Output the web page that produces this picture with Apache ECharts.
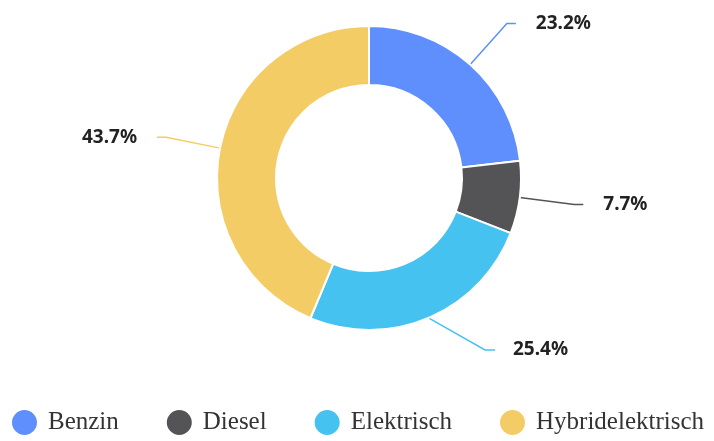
<!DOCTYPE html>
<html>
<head>
<meta charset="utf-8">
<script src="https://cdn.jsdelivr.net/npm/echarts@6/dist/echarts.min.js"></script>
<style>
  html, body { margin: 0; padding: 0; background: #fff; }
  #chart { width: 714px; height: 441px; }
</style>
</head>
<body>
<div id="chart"></div>
<script>
var categories = ['Benzin', 'Diesel', 'Elektrisch', 'Hybridelektrisch']
var shares = [23.2, 7.7, 25.4, 43.7]
var colors = ['#5e8ffc', '#545456', '#45c2f0', '#f4cc66']

var chart = echarts.init(document.getElementById('chart'))
var option = {
  color: colors,
  legend: {
    data: categories,
    bottom: -1,
    left: 'center',
    icon: 'circle',
    itemWidth: 27,
    itemHeight: 27,
    itemGap: 46,
    textStyle: {
      fontFamily: 'Liberation Serif',
      fontSize: 25,
      color: '#333',
      padding: [0, 0, 0, 5]
    }
  },
  series: [{
    type: 'pie',
    center: [369, 178],
    radius: [93, 152],
    startAngle: 90,
    data: categories.map(function (c, i) {
      var item = { name: c, value: shares[i] }
      if (i === 2) {
        // keep a gap between the line end and the text
        item.label = { padding: [0, 0, 0, 18], backgroundColor: 'rgba(0,0,0,0)' }
        item.labelLine = { length2: 10 }
      }
      return item
    }),
    itemStyle: {
      borderColor: '#fff',
      borderWidth: 2
    },
    label: {
      formatter: function (p) { return p.value.toFixed(1) + '%' },
      fontFamily: 'Noto Sans',
      fontWeight: 'bold',
      fontSize: 19,
      color: '#222',
      distanceToLabelLine: 20
    },
    labelLine: {
      length: 55,
      length2: 9,
      lineStyle: { width: 1.5 }
    },
    labelLayout: function (params) {
      // the Elektrisch label sits higher in the reference
      if (params.dataIndex === 2) {
        return { x: 495, y: 350, align: 'left', verticalAlign: 'middle' }
      }
    }
  }]
}
chart.setOption(option)
</script>
</body>
</html>
